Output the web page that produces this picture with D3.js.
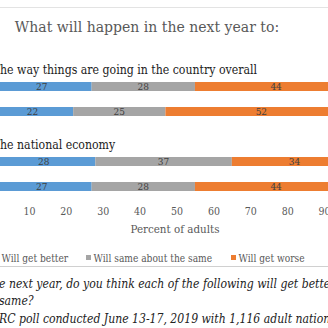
<!DOCTYPE html>
<html>
<head>
<meta charset="utf-8">
<script src="https://cdn.jsdelivr.net/npm/d3@7"></script>
<style>
  html, body { margin: 0; padding: 0; background: #fff; }
  svg { display: block; font-family: "DejaVu Serif Condensed", "DejaVu Serif", serif; font-stretch: condensed; }
</style>
</head>
<body>
<div id="chart"></div>
<script>
// Set dataset
var groups = ["The way things are going in the country overall", "The national economy"];
var rows = ["a1", "a2", "b1", "b2"];
var rowGroup = [0, 0, 1, 1];
var better = [27, 22, 28, 27];
var same = [28, 25, 37, 28];
var worse = [44, 52, 34, 44];
var seriesNames = ["Will get better", "Will same about the same", "Will get worse"];
var colors = ["#5b9bd5", "#a5a5a5", "#ed7d31"];
var ticks = [0, 10, 20, 30, 40, 50, 60, 70, 80, 90, 100];
var notes = [
  "e next year, do you think each of the following will get better, worse, or stay about the",
  "same?",
  "RC poll conducted June 13-17, 2019 with 1,116 adult nationwide"
];

var width = 328, height = 328;

var svg = d3.select("#chart")
  .append("svg")
    .attr("width", width)
    .attr("height", height);

// top rule
svg.append("line")
  .attr("x1", 0).attr("x2", width)
  .attr("y1", 7.5).attr("y2", 7.5)
  .style("stroke", "#e3e3e3");

// title
svg.append("text")
  .attr("x", 147)
  .attr("y", 32)
  .attr("text-anchor", "middle")
  .style("font-size", "15.6px")
  .style("fill", "#595959")
  .text("What will happen in the next year to:");

var x = d3.scaleLinear()
  .domain([0, 100])
  .range([-8, 361]);

// rows: two groups, gap slot between them
var y = d3.scalePoint()
  .domain(["a1", "a2", "gap", "b1", "b2"])
  .range([86.5, 186.5]);

var barH = 9;

var table = rows.map(function(r, i) {
  return {row: r, g: rowGroup[i], vals: [better[i], same[i], worse[i]]};
});

var segs = [];
table.forEach(function(d) {
  var acc = 0;
  d.vals.forEach(function(v, k) {
    segs.push({row: d.row, x0: acc, x1: acc + v, v: v, k: k});
    acc += v;
  });
});

svg.selectAll("rect.seg")
  .data(segs)
  .enter()
  .append("rect")
    .attr("class", "seg")
    .attr("x", function(d) { return x(d.x0); })
    .attr("width", function(d) { return x(d.x1) - x(d.x0); })
    .attr("y", function(d) { return y(d.row) - barH / 2; })
    .attr("height", barH)
    .style("fill", function(d) { return colors[d.k]; });

svg.selectAll("text.val")
  .data(segs)
  .enter()
  .append("text")
    .attr("class", "val")
    .attr("x", function(d) { return x((d.x0 + d.x1) / 2); })
    .attr("y", function(d) { return y(d.row); })
    .attr("dy", "0.36em")
    .attr("text-anchor", "middle")
    .style("font-size", "10px")
    .style("fill", "#404040")
    .text(function(d) { return d.v; });

// group labels, first letter sits just off the left edge
groups.forEach(function(g, i) {
  var first = rows[rowGroup.indexOf(i)];
  var t = svg.append("text")
    .attr("x", 0)
    .attr("y", y(first) - 12.5)
    .style("font-size", "12.2px")
    .style("fill", "#222")
    .text(g);
  var off = t.node().getStartPositionOfChar(1).x;
  t.attr("x", -off);
});

// x axis
var axis = svg.append("g")
  .attr("transform", "translate(0,208)")
  .call(d3.axisBottom(x).tickValues(ticks).tickSize(0).tickPadding(0));
axis.select(".domain").remove();
axis.attr("font-family", null);
axis.selectAll("text")
  .attr("dy", "0.71em")
  .style("font-size", "10.5px")
  .style("fill", "#595959");

svg.append("text")
  .attr("x", 175)
  .attr("y", 233)
  .attr("text-anchor", "middle")
  .style("font-size", "11.5px")
  .style("fill", "#595959")
  .text("Percent of adults");

// Handmade legend
var legendX = [-6, 86, 231];
seriesNames.forEach(function(s, i) {
  svg.append("rect")
    .attr("x", legendX[i])
    .attr("y", 255)
    .attr("width", 5)
    .attr("height", 5)
    .style("fill", colors[i]);
  svg.append("text")
    .attr("x", legendX[i] + 7.5)
    .attr("y", 262)
    .style("font-size", "10.1px")
    .style("fill", "#595959")
    .text(s);
});

svg.append("line")
  .attr("x1", 0).attr("x2", width)
  .attr("y1", 266.5).attr("y2", 266.5)
  .style("stroke", "#d0d0d0");

// footnotes
var noteY = [288, 305, 323];
notes.forEach(function(n, i) {
  svg.append("text")
    .attr("x", -1)
    .attr("y", noteY[i])
    .style("font-size", "12.1px")
    .style("font-style", "italic")
    .style("fill", "#222")
    .text(n);
});
</script>
</body>
</html>
